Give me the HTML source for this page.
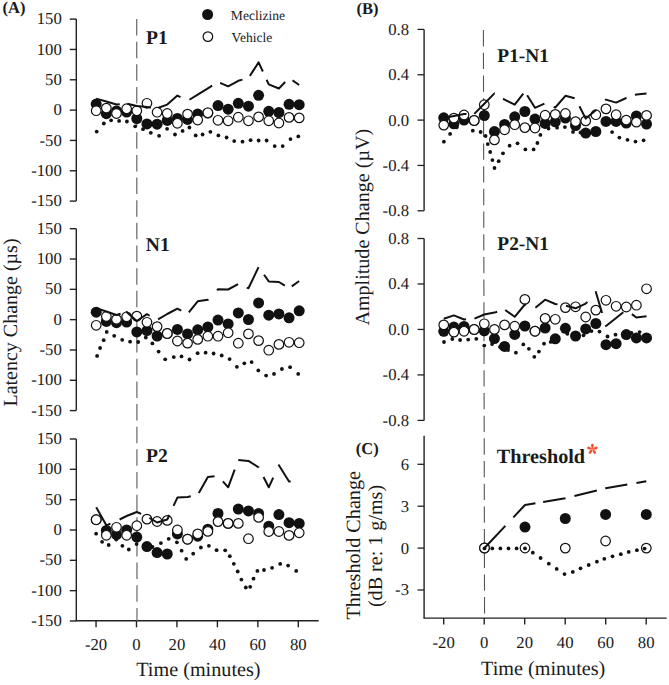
<!DOCTYPE html>
<html><head><meta charset="utf-8"><style>
html,body{margin:0;padding:0;background:#fff;width:669px;height:685px;overflow:hidden}
svg{display:block;font-family:"Liberation Serif", serif;text-rendering:geometricPrecision}
</style></head><body>
<svg width="669" height="685" viewBox="0 0 669 685">
<rect width="669" height="685" fill="#fff"/>
<line x1="76.30" y1="19.10" x2="76.30" y2="201.10" stroke="#222" stroke-width="1.4" />
<line x1="69.80" y1="19.10" x2="76.30" y2="19.10" stroke="#222" stroke-width="1.4" />
<text x="61.80" y="24.20" font-size="16.7" text-anchor="end" font-weight="normal" fill="#1a1a1a" >150</text>
<line x1="69.80" y1="49.43" x2="76.30" y2="49.43" stroke="#222" stroke-width="1.4" />
<text x="61.80" y="54.53" font-size="16.7" text-anchor="end" font-weight="normal" fill="#1a1a1a" >100</text>
<line x1="69.80" y1="79.77" x2="76.30" y2="79.77" stroke="#222" stroke-width="1.4" />
<text x="61.80" y="84.87" font-size="16.7" text-anchor="end" font-weight="normal" fill="#1a1a1a" >50</text>
<line x1="69.80" y1="110.10" x2="76.30" y2="110.10" stroke="#222" stroke-width="1.4" />
<text x="61.80" y="115.20" font-size="16.7" text-anchor="end" font-weight="normal" fill="#1a1a1a" >0</text>
<line x1="69.80" y1="140.43" x2="76.30" y2="140.43" stroke="#222" stroke-width="1.4" />
<text x="61.80" y="145.53" font-size="16.7" text-anchor="end" font-weight="normal" fill="#1a1a1a" >-50</text>
<line x1="69.80" y1="170.77" x2="76.30" y2="170.77" stroke="#222" stroke-width="1.4" />
<text x="61.80" y="175.87" font-size="16.7" text-anchor="end" font-weight="normal" fill="#1a1a1a" >-100</text>
<line x1="69.80" y1="201.10" x2="76.30" y2="201.10" stroke="#222" stroke-width="1.4" />
<text x="61.80" y="206.20" font-size="16.7" text-anchor="end" font-weight="normal" fill="#1a1a1a" >-150</text>
<line x1="76.30" y1="228.70" x2="76.30" y2="410.60" stroke="#222" stroke-width="1.4" />
<line x1="69.80" y1="228.70" x2="76.30" y2="228.70" stroke="#222" stroke-width="1.4" />
<text x="61.80" y="233.80" font-size="16.7" text-anchor="end" font-weight="normal" fill="#1a1a1a" >150</text>
<line x1="69.80" y1="259.02" x2="76.30" y2="259.02" stroke="#222" stroke-width="1.4" />
<text x="61.80" y="264.12" font-size="16.7" text-anchor="end" font-weight="normal" fill="#1a1a1a" >100</text>
<line x1="69.80" y1="289.33" x2="76.30" y2="289.33" stroke="#222" stroke-width="1.4" />
<text x="61.80" y="294.43" font-size="16.7" text-anchor="end" font-weight="normal" fill="#1a1a1a" >50</text>
<line x1="69.80" y1="319.65" x2="76.30" y2="319.65" stroke="#222" stroke-width="1.4" />
<text x="61.80" y="324.75" font-size="16.7" text-anchor="end" font-weight="normal" fill="#1a1a1a" >0</text>
<line x1="69.80" y1="349.97" x2="76.30" y2="349.97" stroke="#222" stroke-width="1.4" />
<text x="61.80" y="355.07" font-size="16.7" text-anchor="end" font-weight="normal" fill="#1a1a1a" >-50</text>
<line x1="69.80" y1="380.28" x2="76.30" y2="380.28" stroke="#222" stroke-width="1.4" />
<text x="61.80" y="385.38" font-size="16.7" text-anchor="end" font-weight="normal" fill="#1a1a1a" >-100</text>
<line x1="69.80" y1="410.60" x2="76.30" y2="410.60" stroke="#222" stroke-width="1.4" />
<text x="61.80" y="415.70" font-size="16.7" text-anchor="end" font-weight="normal" fill="#1a1a1a" >-150</text>
<line x1="76.30" y1="439.00" x2="76.30" y2="621.00" stroke="#222" stroke-width="1.4" />
<line x1="69.80" y1="439.00" x2="76.30" y2="439.00" stroke="#222" stroke-width="1.4" />
<text x="61.80" y="444.10" font-size="16.7" text-anchor="end" font-weight="normal" fill="#1a1a1a" >150</text>
<line x1="69.80" y1="469.33" x2="76.30" y2="469.33" stroke="#222" stroke-width="1.4" />
<text x="61.80" y="474.43" font-size="16.7" text-anchor="end" font-weight="normal" fill="#1a1a1a" >100</text>
<line x1="69.80" y1="499.67" x2="76.30" y2="499.67" stroke="#222" stroke-width="1.4" />
<text x="61.80" y="504.77" font-size="16.7" text-anchor="end" font-weight="normal" fill="#1a1a1a" >50</text>
<line x1="69.80" y1="530.00" x2="76.30" y2="530.00" stroke="#222" stroke-width="1.4" />
<text x="61.80" y="535.10" font-size="16.7" text-anchor="end" font-weight="normal" fill="#1a1a1a" >0</text>
<line x1="69.80" y1="560.33" x2="76.30" y2="560.33" stroke="#222" stroke-width="1.4" />
<text x="61.80" y="565.43" font-size="16.7" text-anchor="end" font-weight="normal" fill="#1a1a1a" >-50</text>
<line x1="69.80" y1="590.67" x2="76.30" y2="590.67" stroke="#222" stroke-width="1.4" />
<text x="61.80" y="595.77" font-size="16.7" text-anchor="end" font-weight="normal" fill="#1a1a1a" >-100</text>
<line x1="69.80" y1="621.00" x2="76.30" y2="621.00" stroke="#222" stroke-width="1.4" />
<text x="61.80" y="626.10" font-size="16.7" text-anchor="end" font-weight="normal" fill="#1a1a1a" >-150</text>
<line x1="75.60" y1="620.80" x2="318.70" y2="620.80" stroke="#222" stroke-width="1.4" />
<line x1="96.05" y1="620.80" x2="96.05" y2="627.30" stroke="#222" stroke-width="1.4" />
<text x="96.05" y="649.60" font-size="16.7" text-anchor="middle" font-weight="normal" fill="#1a1a1a" >-20</text>
<line x1="136.50" y1="620.80" x2="136.50" y2="627.30" stroke="#222" stroke-width="1.4" />
<text x="136.50" y="649.60" font-size="16.7" text-anchor="middle" font-weight="normal" fill="#1a1a1a" >0</text>
<line x1="176.95" y1="620.80" x2="176.95" y2="627.30" stroke="#222" stroke-width="1.4" />
<text x="176.95" y="649.60" font-size="16.7" text-anchor="middle" font-weight="normal" fill="#1a1a1a" >20</text>
<line x1="217.40" y1="620.80" x2="217.40" y2="627.30" stroke="#222" stroke-width="1.4" />
<text x="217.40" y="649.60" font-size="16.7" text-anchor="middle" font-weight="normal" fill="#1a1a1a" >40</text>
<line x1="257.85" y1="620.80" x2="257.85" y2="627.30" stroke="#222" stroke-width="1.4" />
<text x="257.85" y="649.60" font-size="16.7" text-anchor="middle" font-weight="normal" fill="#1a1a1a" >60</text>
<line x1="298.30" y1="620.80" x2="298.30" y2="627.30" stroke="#222" stroke-width="1.4" />
<text x="298.30" y="649.60" font-size="16.7" text-anchor="middle" font-weight="normal" fill="#1a1a1a" >80</text>
<line x1="136.70" y1="19.00" x2="137.00" y2="620.80" stroke="#727272" stroke-width="1.3" stroke-dasharray="16.5 6.15"/>
<line x1="424.10" y1="29.40" x2="424.10" y2="210.80" stroke="#222" stroke-width="1.4" />
<line x1="417.50" y1="29.40" x2="424.10" y2="29.40" stroke="#222" stroke-width="1.3" />
<text x="409.00" y="34.80" font-size="16.7" text-anchor="end" font-weight="normal" fill="#1a1a1a" >0.8</text>
<line x1="417.50" y1="74.75" x2="424.10" y2="74.75" stroke="#222" stroke-width="1.3" />
<text x="409.00" y="80.15" font-size="16.7" text-anchor="end" font-weight="normal" fill="#1a1a1a" >0.4</text>
<line x1="417.50" y1="120.10" x2="424.10" y2="120.10" stroke="#222" stroke-width="1.3" />
<text x="409.00" y="125.50" font-size="16.7" text-anchor="end" font-weight="normal" fill="#1a1a1a" >0.0</text>
<line x1="417.50" y1="165.45" x2="424.10" y2="165.45" stroke="#222" stroke-width="1.3" />
<text x="409.00" y="170.85" font-size="16.7" text-anchor="end" font-weight="normal" fill="#1a1a1a" >-0.4</text>
<line x1="417.50" y1="210.80" x2="424.10" y2="210.80" stroke="#222" stroke-width="1.3" />
<text x="409.00" y="216.20" font-size="16.7" text-anchor="end" font-weight="normal" fill="#1a1a1a" >-0.8</text>
<line x1="424.10" y1="238.50" x2="424.10" y2="420.40" stroke="#222" stroke-width="1.4" />
<line x1="417.50" y1="238.50" x2="424.10" y2="238.50" stroke="#222" stroke-width="1.3" />
<text x="409.00" y="243.90" font-size="16.7" text-anchor="end" font-weight="normal" fill="#1a1a1a" >0.8</text>
<line x1="417.50" y1="283.98" x2="424.10" y2="283.98" stroke="#222" stroke-width="1.3" />
<text x="409.00" y="289.38" font-size="16.7" text-anchor="end" font-weight="normal" fill="#1a1a1a" >0.4</text>
<line x1="417.50" y1="329.45" x2="424.10" y2="329.45" stroke="#222" stroke-width="1.3" />
<text x="409.00" y="334.85" font-size="16.7" text-anchor="end" font-weight="normal" fill="#1a1a1a" >0.0</text>
<line x1="417.50" y1="374.92" x2="424.10" y2="374.92" stroke="#222" stroke-width="1.3" />
<text x="409.00" y="380.32" font-size="16.7" text-anchor="end" font-weight="normal" fill="#1a1a1a" >-0.4</text>
<line x1="417.50" y1="420.40" x2="424.10" y2="420.40" stroke="#222" stroke-width="1.3" />
<text x="409.00" y="425.80" font-size="16.7" text-anchor="end" font-weight="normal" fill="#1a1a1a" >-0.8</text>
<line x1="424.10" y1="435.80" x2="424.10" y2="618.10" stroke="#222" stroke-width="1.4" />
<line x1="417.50" y1="464.30" x2="424.10" y2="464.30" stroke="#222" stroke-width="1.3" />
<text x="409.00" y="469.70" font-size="16.7" text-anchor="end" font-weight="normal" fill="#1a1a1a" >6</text>
<line x1="417.50" y1="506.20" x2="424.10" y2="506.20" stroke="#222" stroke-width="1.3" />
<text x="409.00" y="511.60" font-size="16.7" text-anchor="end" font-weight="normal" fill="#1a1a1a" >3</text>
<line x1="417.50" y1="548.10" x2="424.10" y2="548.10" stroke="#222" stroke-width="1.3" />
<text x="409.00" y="553.50" font-size="16.7" text-anchor="end" font-weight="normal" fill="#1a1a1a" >0</text>
<line x1="417.50" y1="590.00" x2="424.10" y2="590.00" stroke="#222" stroke-width="1.3" />
<text x="409.00" y="595.40" font-size="16.7" text-anchor="end" font-weight="normal" fill="#1a1a1a" >-3</text>
<line x1="423.40" y1="618.10" x2="666.70" y2="618.10" stroke="#222" stroke-width="1.4" />
<line x1="443.70" y1="618.10" x2="443.70" y2="624.60" stroke="#222" stroke-width="1.4" />
<text x="443.70" y="647.60" font-size="16.7" text-anchor="middle" font-weight="normal" fill="#1a1a1a" >-20</text>
<line x1="484.20" y1="618.10" x2="484.20" y2="624.60" stroke="#222" stroke-width="1.4" />
<text x="484.20" y="647.60" font-size="16.7" text-anchor="middle" font-weight="normal" fill="#1a1a1a" >0</text>
<line x1="524.70" y1="618.10" x2="524.70" y2="624.60" stroke="#222" stroke-width="1.4" />
<text x="524.70" y="647.60" font-size="16.7" text-anchor="middle" font-weight="normal" fill="#1a1a1a" >20</text>
<line x1="565.20" y1="618.10" x2="565.20" y2="624.60" stroke="#222" stroke-width="1.4" />
<text x="565.20" y="647.60" font-size="16.7" text-anchor="middle" font-weight="normal" fill="#1a1a1a" >40</text>
<line x1="605.70" y1="618.10" x2="605.70" y2="624.60" stroke="#222" stroke-width="1.4" />
<text x="605.70" y="647.60" font-size="16.7" text-anchor="middle" font-weight="normal" fill="#1a1a1a" >60</text>
<line x1="646.20" y1="618.10" x2="646.20" y2="624.60" stroke="#222" stroke-width="1.4" />
<text x="646.20" y="647.60" font-size="16.7" text-anchor="middle" font-weight="normal" fill="#1a1a1a" >80</text>
<line x1="483.40" y1="30.10" x2="484.55" y2="618.10" stroke="#555" stroke-width="1.1" stroke-dasharray="16.3 6.38"/>
<circle cx="96.20" cy="104.10" r="5.5" fill="#111"/>
<circle cx="106.35" cy="113.70" r="5.5" fill="#111"/>
<circle cx="116.50" cy="111.00" r="5.5" fill="#111"/>
<circle cx="126.65" cy="112.00" r="5.5" fill="#111"/>
<circle cx="136.80" cy="118.50" r="5.5" fill="#111"/>
<circle cx="146.95" cy="123.90" r="5.5" fill="#111"/>
<circle cx="157.10" cy="124.20" r="5.5" fill="#111"/>
<circle cx="167.25" cy="120.40" r="5.5" fill="#111"/>
<circle cx="177.40" cy="118.50" r="5.5" fill="#111"/>
<circle cx="187.55" cy="119.40" r="5.5" fill="#111"/>
<circle cx="197.70" cy="114.10" r="5.5" fill="#111"/>
<circle cx="207.85" cy="113.00" r="5.5" fill="#111"/>
<circle cx="218.00" cy="105.60" r="5.5" fill="#111"/>
<circle cx="228.15" cy="109.20" r="5.5" fill="#111"/>
<circle cx="238.30" cy="103.30" r="5.5" fill="#111"/>
<circle cx="248.45" cy="106.20" r="5.5" fill="#111"/>
<circle cx="258.60" cy="95.30" r="5.5" fill="#111"/>
<circle cx="268.75" cy="111.30" r="5.5" fill="#111"/>
<circle cx="278.90" cy="112.50" r="5.5" fill="#111"/>
<circle cx="289.05" cy="104.30" r="5.5" fill="#111"/>
<circle cx="299.20" cy="104.70" r="5.5" fill="#111"/>
<circle cx="96.20" cy="110.70" r="4.8" fill="#fff" stroke="#111" stroke-width="1.2"/>
<circle cx="106.35" cy="108.10" r="4.8" fill="#fff" stroke="#111" stroke-width="1.2"/>
<circle cx="116.50" cy="113.50" r="4.8" fill="#fff" stroke="#111" stroke-width="1.2"/>
<circle cx="126.65" cy="108.70" r="4.8" fill="#fff" stroke="#111" stroke-width="1.2"/>
<circle cx="136.80" cy="110.70" r="4.8" fill="#fff" stroke="#111" stroke-width="1.2"/>
<circle cx="146.95" cy="103.30" r="4.8" fill="#fff" stroke="#111" stroke-width="1.2"/>
<circle cx="157.10" cy="112.20" r="4.8" fill="#fff" stroke="#111" stroke-width="1.2"/>
<circle cx="167.25" cy="113.50" r="4.8" fill="#fff" stroke="#111" stroke-width="1.2"/>
<circle cx="177.40" cy="123.30" r="4.8" fill="#fff" stroke="#111" stroke-width="1.2"/>
<circle cx="187.55" cy="114.10" r="4.8" fill="#fff" stroke="#111" stroke-width="1.2"/>
<circle cx="197.70" cy="120.00" r="4.8" fill="#fff" stroke="#111" stroke-width="1.2"/>
<circle cx="207.85" cy="112.80" r="4.8" fill="#fff" stroke="#111" stroke-width="1.2"/>
<circle cx="218.00" cy="120.30" r="4.8" fill="#fff" stroke="#111" stroke-width="1.2"/>
<circle cx="228.15" cy="120.80" r="4.8" fill="#fff" stroke="#111" stroke-width="1.2"/>
<circle cx="238.30" cy="117.20" r="4.8" fill="#fff" stroke="#111" stroke-width="1.2"/>
<circle cx="248.45" cy="120.80" r="4.8" fill="#fff" stroke="#111" stroke-width="1.2"/>
<circle cx="258.60" cy="116.90" r="4.8" fill="#fff" stroke="#111" stroke-width="1.2"/>
<circle cx="268.75" cy="120.80" r="4.8" fill="#fff" stroke="#111" stroke-width="1.2"/>
<circle cx="278.90" cy="123.00" r="4.8" fill="#fff" stroke="#111" stroke-width="1.2"/>
<circle cx="289.05" cy="117.40" r="4.8" fill="#fff" stroke="#111" stroke-width="1.2"/>
<circle cx="299.20" cy="117.90" r="4.8" fill="#fff" stroke="#111" stroke-width="1.2"/>
<polyline points="96.20,98.60 106.35,101.50 116.50,104.50 126.65,103.50 136.80,106.00 146.95,107.00 157.10,108.20 167.25,104.60 177.40,95.60 187.55,100.90 197.70,94.60 207.85,88.30 218.00,82.00 228.15,86.30 238.30,80.80 248.45,78.00 258.60,62.40 268.75,84.30 278.90,88.50 289.05,78.00 299.20,85.00" fill="none" stroke="#111" stroke-width="2" stroke-dasharray="24.41 7.66 23.99 7.54 26.43 10.17 26.78 9.21 24.50 8.82 26.11 9.00 25.04 9.82 24.50 8.50" stroke-linejoin="round"/>
<circle cx="96.70" cy="131.60" r="1.9" fill="#111"/>
<circle cx="103.80" cy="123.50" r="1.9" fill="#111"/>
<circle cx="111.10" cy="120.30" r="1.9" fill="#111"/>
<circle cx="119.10" cy="120.90" r="1.9" fill="#111"/>
<circle cx="126.90" cy="121.50" r="1.9" fill="#111"/>
<circle cx="135.20" cy="126.30" r="1.9" fill="#111"/>
<circle cx="143.00" cy="129.20" r="1.9" fill="#111"/>
<circle cx="150.80" cy="132.80" r="1.9" fill="#111"/>
<circle cx="159.10" cy="135.80" r="1.9" fill="#111"/>
<circle cx="167.10" cy="128.80" r="1.9" fill="#111"/>
<circle cx="175.00" cy="134.50" r="1.9" fill="#111"/>
<circle cx="182.60" cy="130.90" r="1.9" fill="#111"/>
<circle cx="189.40" cy="127.50" r="1.9" fill="#111"/>
<circle cx="195.70" cy="135.40" r="1.9" fill="#111"/>
<circle cx="202.60" cy="134.50" r="1.9" fill="#111"/>
<circle cx="210.40" cy="131.80" r="1.9" fill="#111"/>
<circle cx="218.40" cy="135.40" r="1.9" fill="#111"/>
<circle cx="226.60" cy="137.50" r="1.9" fill="#111"/>
<circle cx="234.20" cy="141.10" r="1.9" fill="#111"/>
<circle cx="242.50" cy="141.70" r="1.9" fill="#111"/>
<circle cx="250.60" cy="140.20" r="1.9" fill="#111"/>
<circle cx="258.60" cy="140.50" r="1.9" fill="#111"/>
<circle cx="266.60" cy="140.50" r="1.9" fill="#111"/>
<circle cx="274.70" cy="146.10" r="1.9" fill="#111"/>
<circle cx="282.70" cy="146.10" r="1.9" fill="#111"/>
<circle cx="290.50" cy="139.10" r="1.9" fill="#111"/>
<circle cx="298.30" cy="136.40" r="1.9" fill="#111"/>
<circle cx="96.20" cy="312.20" r="5.5" fill="#111"/>
<circle cx="106.35" cy="321.40" r="5.5" fill="#111"/>
<circle cx="116.50" cy="322.70" r="5.5" fill="#111"/>
<circle cx="126.65" cy="322.00" r="5.5" fill="#111"/>
<circle cx="136.80" cy="331.90" r="5.5" fill="#111"/>
<circle cx="146.95" cy="330.60" r="5.5" fill="#111"/>
<circle cx="157.10" cy="336.00" r="5.5" fill="#111"/>
<circle cx="167.25" cy="333.50" r="5.5" fill="#111"/>
<circle cx="177.40" cy="329.40" r="5.5" fill="#111"/>
<circle cx="187.55" cy="333.90" r="5.5" fill="#111"/>
<circle cx="197.70" cy="329.80" r="5.5" fill="#111"/>
<circle cx="207.85" cy="327.00" r="5.5" fill="#111"/>
<circle cx="218.00" cy="320.10" r="5.5" fill="#111"/>
<circle cx="228.15" cy="323.90" r="5.5" fill="#111"/>
<circle cx="238.30" cy="312.90" r="5.5" fill="#111"/>
<circle cx="248.45" cy="319.50" r="5.5" fill="#111"/>
<circle cx="258.60" cy="302.90" r="5.5" fill="#111"/>
<circle cx="268.75" cy="315.20" r="5.5" fill="#111"/>
<circle cx="278.90" cy="313.90" r="5.5" fill="#111"/>
<circle cx="289.05" cy="317.80" r="5.5" fill="#111"/>
<circle cx="299.20" cy="310.80" r="5.5" fill="#111"/>
<circle cx="96.20" cy="325.30" r="4.8" fill="#fff" stroke="#111" stroke-width="1.2"/>
<circle cx="106.35" cy="316.50" r="4.8" fill="#fff" stroke="#111" stroke-width="1.2"/>
<circle cx="116.50" cy="319.40" r="4.8" fill="#fff" stroke="#111" stroke-width="1.2"/>
<circle cx="126.65" cy="316.80" r="4.8" fill="#fff" stroke="#111" stroke-width="1.2"/>
<circle cx="136.80" cy="316.10" r="4.8" fill="#fff" stroke="#111" stroke-width="1.2"/>
<circle cx="146.95" cy="322.30" r="4.8" fill="#fff" stroke="#111" stroke-width="1.2"/>
<circle cx="157.10" cy="326.60" r="4.8" fill="#fff" stroke="#111" stroke-width="1.2"/>
<circle cx="167.25" cy="333.50" r="4.8" fill="#fff" stroke="#111" stroke-width="1.2"/>
<circle cx="177.40" cy="341.00" r="4.8" fill="#fff" stroke="#111" stroke-width="1.2"/>
<circle cx="187.55" cy="343.10" r="4.8" fill="#fff" stroke="#111" stroke-width="1.2"/>
<circle cx="197.70" cy="339.40" r="4.8" fill="#fff" stroke="#111" stroke-width="1.2"/>
<circle cx="207.85" cy="336.20" r="4.8" fill="#fff" stroke="#111" stroke-width="1.2"/>
<circle cx="218.00" cy="336.20" r="4.8" fill="#fff" stroke="#111" stroke-width="1.2"/>
<circle cx="228.15" cy="332.70" r="4.8" fill="#fff" stroke="#111" stroke-width="1.2"/>
<circle cx="238.30" cy="343.20" r="4.8" fill="#fff" stroke="#111" stroke-width="1.2"/>
<circle cx="248.45" cy="333.90" r="4.8" fill="#fff" stroke="#111" stroke-width="1.2"/>
<circle cx="258.60" cy="340.60" r="4.8" fill="#fff" stroke="#111" stroke-width="1.2"/>
<circle cx="268.75" cy="350.20" r="4.8" fill="#fff" stroke="#111" stroke-width="1.2"/>
<circle cx="278.90" cy="344.40" r="4.8" fill="#fff" stroke="#111" stroke-width="1.2"/>
<circle cx="289.05" cy="342.30" r="4.8" fill="#fff" stroke="#111" stroke-width="1.2"/>
<circle cx="299.20" cy="342.70" r="4.8" fill="#fff" stroke="#111" stroke-width="1.2"/>
<polyline points="96.20,308.20 106.35,311.50 116.50,315.00 126.65,312.00 136.80,321.00 146.95,314.20 157.10,320.00 167.25,314.00 177.40,308.70 187.55,314.00 197.70,301.30 207.85,299.70 218.00,289.30 228.15,289.50 238.30,284.00 248.45,288.30 258.60,267.00 268.75,281.40 278.90,282.00 289.05,288.30 299.20,281.00" fill="none" stroke="#111" stroke-width="2" stroke-dasharray="25.67 5.61 29.62 9.67 26.47 9.12 25.20 12.46 22.84 9.44 25.32 9.64 25.30 8.28 24.50 8.50" stroke-linejoin="round"/>
<circle cx="97.10" cy="355.90" r="1.9" fill="#111"/>
<circle cx="100.10" cy="348.00" r="1.9" fill="#111"/>
<circle cx="103.70" cy="340.20" r="1.9" fill="#111"/>
<circle cx="106.70" cy="331.90" r="1.9" fill="#111"/>
<circle cx="114.20" cy="335.80" r="1.9" fill="#111"/>
<circle cx="122.20" cy="339.80" r="1.9" fill="#111"/>
<circle cx="130.10" cy="341.70" r="1.9" fill="#111"/>
<circle cx="138.20" cy="342.00" r="1.9" fill="#111"/>
<circle cx="145.80" cy="337.50" r="1.9" fill="#111"/>
<circle cx="152.40" cy="343.40" r="1.9" fill="#111"/>
<circle cx="158.60" cy="351.60" r="1.9" fill="#111"/>
<circle cx="165.20" cy="359.30" r="1.9" fill="#111"/>
<circle cx="173.80" cy="357.10" r="1.9" fill="#111"/>
<circle cx="181.50" cy="356.40" r="1.9" fill="#111"/>
<circle cx="189.50" cy="359.50" r="1.9" fill="#111"/>
<circle cx="197.60" cy="353.20" r="1.9" fill="#111"/>
<circle cx="205.60" cy="352.70" r="1.9" fill="#111"/>
<circle cx="213.60" cy="353.50" r="1.9" fill="#111"/>
<circle cx="221.70" cy="355.50" r="1.9" fill="#111"/>
<circle cx="229.60" cy="359.10" r="1.9" fill="#111"/>
<circle cx="236.90" cy="366.80" r="1.9" fill="#111"/>
<circle cx="244.30" cy="363.30" r="1.9" fill="#111"/>
<circle cx="251.60" cy="362.10" r="1.9" fill="#111"/>
<circle cx="258.30" cy="370.40" r="1.9" fill="#111"/>
<circle cx="266.10" cy="375.60" r="1.9" fill="#111"/>
<circle cx="274.00" cy="373.90" r="1.9" fill="#111"/>
<circle cx="281.90" cy="369.00" r="1.9" fill="#111"/>
<circle cx="290.10" cy="367.20" r="1.9" fill="#111"/>
<circle cx="298.20" cy="373.90" r="1.9" fill="#111"/>
<circle cx="96.20" cy="519.70" r="5.5" fill="#111"/>
<circle cx="106.35" cy="530.50" r="5.5" fill="#111"/>
<circle cx="116.50" cy="534.50" r="5.5" fill="#111"/>
<circle cx="126.65" cy="529.90" r="5.5" fill="#111"/>
<circle cx="136.80" cy="537.10" r="5.5" fill="#111"/>
<circle cx="146.95" cy="546.60" r="5.5" fill="#111"/>
<circle cx="157.10" cy="552.60" r="5.5" fill="#111"/>
<circle cx="167.25" cy="554.00" r="5.5" fill="#111"/>
<circle cx="177.40" cy="533.90" r="5.5" fill="#111"/>
<circle cx="187.55" cy="539.20" r="5.5" fill="#111"/>
<circle cx="197.70" cy="536.20" r="5.5" fill="#111"/>
<circle cx="207.85" cy="529.20" r="5.5" fill="#111"/>
<circle cx="218.00" cy="513.40" r="5.5" fill="#111"/>
<circle cx="228.15" cy="523.40" r="5.5" fill="#111"/>
<circle cx="238.30" cy="509.10" r="5.5" fill="#111"/>
<circle cx="248.45" cy="510.90" r="5.5" fill="#111"/>
<circle cx="258.60" cy="513.50" r="5.5" fill="#111"/>
<circle cx="268.75" cy="526.20" r="5.5" fill="#111"/>
<circle cx="278.90" cy="514.60" r="5.5" fill="#111"/>
<circle cx="289.05" cy="522.70" r="5.5" fill="#111"/>
<circle cx="299.20" cy="523.40" r="5.5" fill="#111"/>
<circle cx="96.20" cy="519.70" r="4.8" fill="#fff" stroke="#111" stroke-width="1.2"/>
<circle cx="106.35" cy="535.30" r="4.8" fill="#fff" stroke="#111" stroke-width="1.2"/>
<circle cx="116.50" cy="527.30" r="4.8" fill="#fff" stroke="#111" stroke-width="1.2"/>
<circle cx="126.65" cy="535.30" r="4.8" fill="#fff" stroke="#111" stroke-width="1.2"/>
<circle cx="136.80" cy="525.70" r="4.8" fill="#fff" stroke="#111" stroke-width="1.2"/>
<circle cx="146.95" cy="519.10" r="4.8" fill="#fff" stroke="#111" stroke-width="1.2"/>
<circle cx="157.10" cy="521.50" r="4.8" fill="#fff" stroke="#111" stroke-width="1.2"/>
<circle cx="167.25" cy="520.40" r="4.8" fill="#fff" stroke="#111" stroke-width="1.2"/>
<circle cx="177.40" cy="530.00" r="4.8" fill="#fff" stroke="#111" stroke-width="1.2"/>
<circle cx="187.55" cy="539.20" r="4.8" fill="#fff" stroke="#111" stroke-width="1.2"/>
<circle cx="197.70" cy="533.90" r="4.8" fill="#fff" stroke="#111" stroke-width="1.2"/>
<circle cx="207.85" cy="531.40" r="4.8" fill="#fff" stroke="#111" stroke-width="1.2"/>
<circle cx="218.00" cy="521.60" r="4.8" fill="#fff" stroke="#111" stroke-width="1.2"/>
<circle cx="228.15" cy="523.40" r="4.8" fill="#fff" stroke="#111" stroke-width="1.2"/>
<circle cx="238.30" cy="523.40" r="4.8" fill="#fff" stroke="#111" stroke-width="1.2"/>
<circle cx="248.45" cy="538.70" r="4.8" fill="#fff" stroke="#111" stroke-width="1.2"/>
<circle cx="258.60" cy="517.40" r="4.8" fill="#fff" stroke="#111" stroke-width="1.2"/>
<circle cx="268.75" cy="531.50" r="4.8" fill="#fff" stroke="#111" stroke-width="1.2"/>
<circle cx="278.90" cy="531.50" r="4.8" fill="#fff" stroke="#111" stroke-width="1.2"/>
<circle cx="289.05" cy="535.40" r="4.8" fill="#fff" stroke="#111" stroke-width="1.2"/>
<circle cx="299.20" cy="532.80" r="4.8" fill="#fff" stroke="#111" stroke-width="1.2"/>
<polyline points="96.20,507.20 106.35,525.30 116.50,521.00 126.65,516.00 136.80,512.00 146.95,516.50 157.10,522.50 167.25,519.50 177.40,497.60 187.55,496.90 197.70,494.90 207.85,477.00 218.00,476.00 228.15,487.30 238.30,459.90 248.45,460.90 258.60,467.30 268.75,487.30 278.90,465.20 289.05,481.50 299.20,482.00" fill="none" stroke="#111" stroke-width="2" stroke-dasharray="25.22 9.99 23.60 9.19 24.47 9.94 22.69 9.32 25.00 10.82 26.73 10.35 22.51 10.55 22.21 13.00 21.53 8.50 24.50 8.50" stroke-linejoin="round"/>
<circle cx="96.10" cy="533.70" r="1.9" fill="#111"/>
<circle cx="102.10" cy="541.80" r="1.9" fill="#111"/>
<circle cx="108.70" cy="545.00" r="1.9" fill="#111"/>
<circle cx="116.20" cy="539.50" r="1.9" fill="#111"/>
<circle cx="122.40" cy="545.80" r="1.9" fill="#111"/>
<circle cx="128.80" cy="549.50" r="1.9" fill="#111"/>
<circle cx="136.60" cy="544.10" r="1.9" fill="#111"/>
<circle cx="144.50" cy="547.00" r="1.9" fill="#111"/>
<circle cx="152.50" cy="547.00" r="1.9" fill="#111"/>
<circle cx="160.90" cy="543.10" r="1.9" fill="#111"/>
<circle cx="168.70" cy="538.80" r="1.9" fill="#111"/>
<circle cx="176.90" cy="542.30" r="1.9" fill="#111"/>
<circle cx="181.60" cy="550.70" r="1.9" fill="#111"/>
<circle cx="186.20" cy="558.90" r="1.9" fill="#111"/>
<circle cx="193.20" cy="553.70" r="1.9" fill="#111"/>
<circle cx="200.90" cy="547.50" r="1.9" fill="#111"/>
<circle cx="208.90" cy="545.80" r="1.9" fill="#111"/>
<circle cx="216.60" cy="550.20" r="1.9" fill="#111"/>
<circle cx="225.20" cy="550.30" r="1.9" fill="#111"/>
<circle cx="229.80" cy="556.20" r="1.9" fill="#111"/>
<circle cx="233.80" cy="563.80" r="1.9" fill="#111"/>
<circle cx="237.70" cy="571.50" r="1.9" fill="#111"/>
<circle cx="241.40" cy="579.60" r="1.9" fill="#111"/>
<circle cx="245.80" cy="587.50" r="1.9" fill="#111"/>
<circle cx="250.20" cy="586.80" r="1.9" fill="#111"/>
<circle cx="253.50" cy="578.70" r="1.9" fill="#111"/>
<circle cx="257.40" cy="570.90" r="1.9" fill="#111"/>
<circle cx="264.00" cy="570.00" r="1.9" fill="#111"/>
<circle cx="272.10" cy="567.80" r="1.9" fill="#111"/>
<circle cx="280.20" cy="563.90" r="1.9" fill="#111"/>
<circle cx="288.10" cy="565.60" r="1.9" fill="#111"/>
<circle cx="296.20" cy="570.90" r="1.9" fill="#111"/>
<circle cx="443.74" cy="117.80" r="5.5" fill="#111"/>
<circle cx="453.88" cy="123.80" r="5.5" fill="#111"/>
<circle cx="464.02" cy="120.00" r="5.5" fill="#111"/>
<circle cx="474.16" cy="120.50" r="5.5" fill="#111"/>
<circle cx="484.30" cy="115.50" r="5.5" fill="#111"/>
<circle cx="494.44" cy="131.60" r="5.5" fill="#111"/>
<circle cx="504.58" cy="124.50" r="5.5" fill="#111"/>
<circle cx="514.72" cy="116.80" r="5.5" fill="#111"/>
<circle cx="524.86" cy="111.50" r="5.5" fill="#111"/>
<circle cx="535.00" cy="119.10" r="5.5" fill="#111"/>
<circle cx="545.14" cy="123.40" r="5.5" fill="#111"/>
<circle cx="555.28" cy="121.80" r="5.5" fill="#111"/>
<circle cx="565.42" cy="118.10" r="5.5" fill="#111"/>
<circle cx="575.56" cy="125.50" r="5.5" fill="#111"/>
<circle cx="585.70" cy="133.10" r="5.5" fill="#111"/>
<circle cx="595.84" cy="131.50" r="5.5" fill="#111"/>
<circle cx="605.98" cy="121.40" r="5.5" fill="#111"/>
<circle cx="616.12" cy="121.40" r="5.5" fill="#111"/>
<circle cx="626.26" cy="123.00" r="5.5" fill="#111"/>
<circle cx="636.40" cy="116.00" r="5.5" fill="#111"/>
<circle cx="646.54" cy="124.10" r="5.5" fill="#111"/>
<circle cx="443.74" cy="125.10" r="4.8" fill="#fff" stroke="#111" stroke-width="1.2"/>
<circle cx="453.88" cy="118.10" r="4.8" fill="#fff" stroke="#111" stroke-width="1.2"/>
<circle cx="464.02" cy="115.00" r="4.8" fill="#fff" stroke="#111" stroke-width="1.2"/>
<circle cx="474.16" cy="120.50" r="4.8" fill="#fff" stroke="#111" stroke-width="1.2"/>
<circle cx="484.30" cy="104.70" r="4.8" fill="#fff" stroke="#111" stroke-width="1.2"/>
<circle cx="494.44" cy="139.90" r="4.8" fill="#fff" stroke="#111" stroke-width="1.2"/>
<circle cx="504.58" cy="129.80" r="4.8" fill="#fff" stroke="#111" stroke-width="1.2"/>
<circle cx="514.72" cy="124.70" r="4.8" fill="#fff" stroke="#111" stroke-width="1.2"/>
<circle cx="524.86" cy="127.60" r="4.8" fill="#fff" stroke="#111" stroke-width="1.2"/>
<circle cx="535.00" cy="128.00" r="4.8" fill="#fff" stroke="#111" stroke-width="1.2"/>
<circle cx="545.14" cy="115.20" r="4.8" fill="#fff" stroke="#111" stroke-width="1.2"/>
<circle cx="555.28" cy="114.40" r="4.8" fill="#fff" stroke="#111" stroke-width="1.2"/>
<circle cx="565.42" cy="113.50" r="4.8" fill="#fff" stroke="#111" stroke-width="1.2"/>
<circle cx="575.56" cy="121.60" r="4.8" fill="#fff" stroke="#111" stroke-width="1.2"/>
<circle cx="585.70" cy="120.90" r="4.8" fill="#fff" stroke="#111" stroke-width="1.2"/>
<circle cx="595.84" cy="114.70" r="4.8" fill="#fff" stroke="#111" stroke-width="1.2"/>
<circle cx="605.98" cy="108.90" r="4.8" fill="#fff" stroke="#111" stroke-width="1.2"/>
<circle cx="616.12" cy="114.70" r="4.8" fill="#fff" stroke="#111" stroke-width="1.2"/>
<circle cx="626.26" cy="120.10" r="4.8" fill="#fff" stroke="#111" stroke-width="1.2"/>
<circle cx="636.40" cy="122.10" r="4.8" fill="#fff" stroke="#111" stroke-width="1.2"/>
<circle cx="646.54" cy="115.40" r="4.8" fill="#fff" stroke="#111" stroke-width="1.2"/>
<polyline points="443.74,118.00 453.88,116.00 464.02,114.00 474.16,114.00 484.30,103.80 494.44,93.40 504.58,99.60 514.72,104.60 524.86,91.50 535.00,107.80 545.14,103.30 555.28,107.50 565.42,95.80 575.56,98.50 585.70,118.60 595.84,110.30 605.98,99.60 616.12,102.60 626.26,98.00 636.40,94.50 646.54,93.60" fill="none" stroke="#111" stroke-width="2" stroke-dasharray="23.15 7.90 28.82 9.97 27.05 6.93 25.15 9.99 26.80 9.56 27.61 13.05 23.12 8.99 24.50 8.50" stroke-linejoin="round"/>
<circle cx="443.90" cy="141.70" r="1.9" fill="#111"/>
<circle cx="450.10" cy="133.90" r="1.9" fill="#111"/>
<circle cx="456.70" cy="127.30" r="1.9" fill="#111"/>
<circle cx="464.60" cy="122.80" r="1.9" fill="#111"/>
<circle cx="472.80" cy="130.70" r="1.9" fill="#111"/>
<circle cx="480.60" cy="132.00" r="1.9" fill="#111"/>
<circle cx="485.60" cy="136.00" r="1.9" fill="#111"/>
<circle cx="487.80" cy="144.10" r="1.9" fill="#111"/>
<circle cx="490.20" cy="152.00" r="1.9" fill="#111"/>
<circle cx="492.40" cy="160.10" r="1.9" fill="#111"/>
<circle cx="494.50" cy="168.00" r="1.9" fill="#111"/>
<circle cx="498.70" cy="161.20" r="1.9" fill="#111"/>
<circle cx="503.00" cy="153.30" r="1.9" fill="#111"/>
<circle cx="509.60" cy="145.70" r="1.9" fill="#111"/>
<circle cx="517.50" cy="143.30" r="1.9" fill="#111"/>
<circle cx="525.40" cy="149.40" r="1.9" fill="#111"/>
<circle cx="533.60" cy="149.40" r="1.9" fill="#111"/>
<circle cx="537.40" cy="143.00" r="1.9" fill="#111"/>
<circle cx="540.40" cy="134.90" r="1.9" fill="#111"/>
<circle cx="548.50" cy="128.50" r="1.9" fill="#111"/>
<circle cx="557.10" cy="127.70" r="1.9" fill="#111"/>
<circle cx="564.90" cy="127.10" r="1.9" fill="#111"/>
<circle cx="573.00" cy="131.90" r="1.9" fill="#111"/>
<circle cx="580.50" cy="132.50" r="1.9" fill="#111"/>
<circle cx="588.50" cy="132.50" r="1.9" fill="#111"/>
<circle cx="596.50" cy="131.00" r="1.9" fill="#111"/>
<circle cx="612.10" cy="132.10" r="1.9" fill="#111"/>
<circle cx="619.40" cy="137.60" r="1.9" fill="#111"/>
<circle cx="627.50" cy="139.80" r="1.9" fill="#111"/>
<circle cx="635.50" cy="141.60" r="1.9" fill="#111"/>
<circle cx="643.60" cy="140.30" r="1.9" fill="#111"/>
<circle cx="443.74" cy="331.30" r="5.5" fill="#111"/>
<circle cx="453.88" cy="327.10" r="5.5" fill="#111"/>
<circle cx="464.02" cy="326.50" r="5.5" fill="#111"/>
<circle cx="474.16" cy="329.50" r="5.5" fill="#111"/>
<circle cx="484.30" cy="330.80" r="5.5" fill="#111"/>
<circle cx="494.44" cy="338.60" r="5.5" fill="#111"/>
<circle cx="504.58" cy="346.40" r="5.5" fill="#111"/>
<circle cx="514.72" cy="334.40" r="5.5" fill="#111"/>
<circle cx="524.86" cy="326.00" r="5.5" fill="#111"/>
<circle cx="535.00" cy="331.20" r="5.5" fill="#111"/>
<circle cx="545.14" cy="328.00" r="5.5" fill="#111"/>
<circle cx="555.28" cy="338.80" r="5.5" fill="#111"/>
<circle cx="565.42" cy="328.30" r="5.5" fill="#111"/>
<circle cx="575.56" cy="336.00" r="5.5" fill="#111"/>
<circle cx="585.70" cy="328.90" r="5.5" fill="#111"/>
<circle cx="595.84" cy="323.50" r="5.5" fill="#111"/>
<circle cx="605.98" cy="344.70" r="5.5" fill="#111"/>
<circle cx="616.12" cy="343.70" r="5.5" fill="#111"/>
<circle cx="626.26" cy="334.60" r="5.5" fill="#111"/>
<circle cx="636.40" cy="337.90" r="5.5" fill="#111"/>
<circle cx="646.54" cy="337.90" r="5.5" fill="#111"/>
<circle cx="443.74" cy="324.90" r="4.8" fill="#fff" stroke="#111" stroke-width="1.2"/>
<circle cx="453.88" cy="332.10" r="4.8" fill="#fff" stroke="#111" stroke-width="1.2"/>
<circle cx="464.02" cy="331.30" r="4.8" fill="#fff" stroke="#111" stroke-width="1.2"/>
<circle cx="474.16" cy="329.50" r="4.8" fill="#fff" stroke="#111" stroke-width="1.2"/>
<circle cx="484.30" cy="323.80" r="4.8" fill="#fff" stroke="#111" stroke-width="1.2"/>
<circle cx="494.44" cy="329.40" r="4.8" fill="#fff" stroke="#111" stroke-width="1.2"/>
<circle cx="504.58" cy="324.90" r="4.8" fill="#fff" stroke="#111" stroke-width="1.2"/>
<circle cx="514.72" cy="326.20" r="4.8" fill="#fff" stroke="#111" stroke-width="1.2"/>
<circle cx="524.86" cy="299.40" r="4.8" fill="#fff" stroke="#111" stroke-width="1.2"/>
<circle cx="535.00" cy="331.20" r="4.8" fill="#fff" stroke="#111" stroke-width="1.2"/>
<circle cx="545.14" cy="318.40" r="4.8" fill="#fff" stroke="#111" stroke-width="1.2"/>
<circle cx="555.28" cy="319.30" r="4.8" fill="#fff" stroke="#111" stroke-width="1.2"/>
<circle cx="565.42" cy="307.60" r="4.8" fill="#fff" stroke="#111" stroke-width="1.2"/>
<circle cx="575.56" cy="306.80" r="4.8" fill="#fff" stroke="#111" stroke-width="1.2"/>
<circle cx="585.70" cy="317.00" r="4.8" fill="#fff" stroke="#111" stroke-width="1.2"/>
<circle cx="595.84" cy="310.10" r="4.8" fill="#fff" stroke="#111" stroke-width="1.2"/>
<circle cx="605.98" cy="300.30" r="4.8" fill="#fff" stroke="#111" stroke-width="1.2"/>
<circle cx="616.12" cy="306.30" r="4.8" fill="#fff" stroke="#111" stroke-width="1.2"/>
<circle cx="626.26" cy="307.00" r="4.8" fill="#fff" stroke="#111" stroke-width="1.2"/>
<circle cx="636.40" cy="305.20" r="4.8" fill="#fff" stroke="#111" stroke-width="1.2"/>
<circle cx="646.54" cy="288.80" r="4.8" fill="#fff" stroke="#111" stroke-width="1.2"/>
<polyline points="443.74,318.70 453.88,315.40 464.02,319.50 474.16,318.70 484.30,314.50 494.44,312.60 504.58,309.50 514.72,316.80 524.86,304.50 535.00,308.00 545.14,299.70 555.28,304.00 565.42,305.60 575.56,308.30 585.70,303.70 595.84,292.00 605.98,326.00 616.12,318.00 626.26,310.00 636.40,317.50 646.54,316.30" fill="none" stroke="#111" stroke-width="2" stroke-dasharray="23.66 8.43 23.76 8.59 28.91 10.00 25.84 8.68 23.40 12.48 22.43 12.66 23.02 10.75 24.50 8.50" stroke-linejoin="round"/>
<circle cx="444.00" cy="342.00" r="1.9" fill="#111"/>
<circle cx="452.30" cy="339.00" r="1.9" fill="#111"/>
<circle cx="460.10" cy="340.00" r="1.9" fill="#111"/>
<circle cx="468.20" cy="339.60" r="1.9" fill="#111"/>
<circle cx="476.30" cy="338.80" r="1.9" fill="#111"/>
<circle cx="484.30" cy="345.60" r="1.9" fill="#111"/>
<circle cx="492.10" cy="344.00" r="1.9" fill="#111"/>
<circle cx="500.00" cy="347.00" r="1.9" fill="#111"/>
<circle cx="508.00" cy="350.00" r="1.9" fill="#111"/>
<circle cx="515.90" cy="352.70" r="1.9" fill="#111"/>
<circle cx="523.30" cy="344.40" r="1.9" fill="#111"/>
<circle cx="528.90" cy="348.80" r="1.9" fill="#111"/>
<circle cx="534.30" cy="356.80" r="1.9" fill="#111"/>
<circle cx="538.90" cy="351.60" r="1.9" fill="#111"/>
<circle cx="544.00" cy="343.70" r="1.9" fill="#111"/>
<circle cx="550.70" cy="341.90" r="1.9" fill="#111"/>
<circle cx="558.00" cy="338.00" r="1.9" fill="#111"/>
<circle cx="567.30" cy="333.80" r="1.9" fill="#111"/>
<circle cx="575.50" cy="336.00" r="1.9" fill="#111"/>
<circle cx="583.50" cy="335.30" r="1.9" fill="#111"/>
<circle cx="591.50" cy="331.10" r="1.9" fill="#111"/>
<circle cx="599.50" cy="331.60" r="1.9" fill="#111"/>
<circle cx="607.50" cy="336.50" r="1.9" fill="#111"/>
<circle cx="615.50" cy="334.70" r="1.9" fill="#111"/>
<circle cx="623.50" cy="334.00" r="1.9" fill="#111"/>
<circle cx="631.50" cy="333.00" r="1.9" fill="#111"/>
<circle cx="639.60" cy="332.10" r="1.9" fill="#111"/>
<circle cx="646.00" cy="336.00" r="1.9" fill="#111"/>
<circle cx="484.50" cy="548.00" r="5.5" fill="#111"/>
<circle cx="525.00" cy="527.10" r="5.5" fill="#111"/>
<circle cx="565.30" cy="518.50" r="5.5" fill="#111"/>
<circle cx="605.60" cy="514.40" r="5.5" fill="#111"/>
<circle cx="646.30" cy="514.40" r="5.5" fill="#111"/>
<circle cx="484.50" cy="548.00" r="4.8" fill="#fff" stroke="#111" stroke-width="1.2"/>
<circle cx="525.00" cy="548.00" r="4.8" fill="#fff" stroke="#111" stroke-width="1.2"/>
<circle cx="565.30" cy="548.10" r="4.8" fill="#fff" stroke="#111" stroke-width="1.2"/>
<circle cx="605.60" cy="541.00" r="4.8" fill="#fff" stroke="#111" stroke-width="1.2"/>
<circle cx="646.30" cy="548.10" r="4.8" fill="#fff" stroke="#111" stroke-width="1.2"/>
<polyline points="484.50,548.00 525.00,505.00 565.30,498.30 605.60,488.30 646.30,481.30" fill="none" stroke="#111" stroke-width="2" stroke-dasharray="30.42 11.68 27.54 7.81 22.74 9.12 23.14 8.63 22.39 9.26 24.50 8.50" stroke-linejoin="round"/>
<circle cx="484.50" cy="548.40" r="1.9" fill="#111"/>
<circle cx="492.30" cy="548.40" r="1.9" fill="#111"/>
<circle cx="500.40" cy="548.40" r="1.9" fill="#111"/>
<circle cx="508.50" cy="548.40" r="1.9" fill="#111"/>
<circle cx="516.60" cy="548.40" r="1.9" fill="#111"/>
<circle cx="525.00" cy="548.40" r="1.9" fill="#111"/>
<circle cx="532.80" cy="552.70" r="1.9" fill="#111"/>
<circle cx="540.60" cy="558.00" r="1.9" fill="#111"/>
<circle cx="548.80" cy="563.70" r="1.9" fill="#111"/>
<circle cx="556.70" cy="568.90" r="1.9" fill="#111"/>
<circle cx="564.50" cy="574.10" r="1.9" fill="#111"/>
<circle cx="572.80" cy="571.90" r="1.9" fill="#111"/>
<circle cx="580.50" cy="568.30" r="1.9" fill="#111"/>
<circle cx="588.70" cy="565.00" r="1.9" fill="#111"/>
<circle cx="596.90" cy="561.70" r="1.9" fill="#111"/>
<circle cx="604.30" cy="558.80" r="1.9" fill="#111"/>
<circle cx="612.50" cy="556.30" r="1.9" fill="#111"/>
<circle cx="620.80" cy="554.20" r="1.9" fill="#111"/>
<circle cx="628.70" cy="551.90" r="1.9" fill="#111"/>
<circle cx="636.90" cy="550.20" r="1.9" fill="#111"/>
<circle cx="644.60" cy="548.60" r="1.9" fill="#111"/>
<text x="2.50" y="13.00" font-size="16.5" text-anchor="start" font-weight="bold" fill="#1a1a1a" >(A)</text>
<text x="356.50" y="13.50" font-size="16.5" text-anchor="start" font-weight="bold" fill="#1a1a1a" >(B)</text>
<text x="355.80" y="454.20" font-size="16.5" text-anchor="start" font-weight="bold" fill="#1a1a1a" >(C)</text>
<text x="146.00" y="44.00" font-size="19.6" text-anchor="start" font-weight="bold" fill="#1a1a1a" >P1</text>
<text x="145.80" y="251.00" font-size="19.6" text-anchor="start" font-weight="bold" fill="#1a1a1a" >N1</text>
<text x="146.00" y="462.30" font-size="19.6" text-anchor="start" font-weight="bold" fill="#1a1a1a" >P2</text>
<text x="497.30" y="62.00" font-size="19.4" text-anchor="start" font-weight="bold" fill="#1a1a1a" >P1-N1</text>
<text x="497.30" y="250.00" font-size="19.4" text-anchor="start" font-weight="bold" fill="#1a1a1a" >P2-N1</text>
<text x="496.80" y="462.50" font-size="20.2" text-anchor="start" font-weight="bold" fill="#1a1a1a" >Threshold</text>
<g transform="translate(592.4,449.2) scale(0.94)" fill="#f24e2e"><path d="M0,0 C-1.0,-1.3 -1.45,-3.1 -1.35,-4.4 A1.35,1.35 0 1 1 1.35,-4.4 C1.45,-3.1 1.0,-1.3 0,0 Z" transform="rotate(0)"/><path d="M0,0 C-1.0,-1.3 -1.45,-3.1 -1.35,-4.4 A1.35,1.35 0 1 1 1.35,-4.4 C1.45,-3.1 1.0,-1.3 0,0 Z" transform="rotate(72)"/><path d="M0,0 C-1.0,-1.3 -1.45,-3.1 -1.35,-4.4 A1.35,1.35 0 1 1 1.35,-4.4 C1.45,-3.1 1.0,-1.3 0,0 Z" transform="rotate(144)"/><path d="M0,0 C-1.0,-1.3 -1.45,-3.1 -1.35,-4.4 A1.35,1.35 0 1 1 1.35,-4.4 C1.45,-3.1 1.0,-1.3 0,0 Z" transform="rotate(216)"/><path d="M0,0 C-1.0,-1.3 -1.45,-3.1 -1.35,-4.4 A1.35,1.35 0 1 1 1.35,-4.4 C1.45,-3.1 1.0,-1.3 0,0 Z" transform="rotate(288)"/></g>
<text x="198.40" y="676.30" font-size="20.2" text-anchor="middle" font-weight="normal" fill="#1a1a1a" >Time (minutes)</text>
<text x="543.20" y="674.80" font-size="20.2" text-anchor="middle" font-weight="normal" fill="#1a1a1a" >Time (minutes)</text>
<text x="0.00" y="0.00" font-size="20" text-anchor="middle" font-weight="normal" fill="#1a1a1a" transform="translate(16.6,322.5) rotate(-90)">Latency Change (µs)</text>
<text x="0.00" y="0.00" font-size="20.1" text-anchor="middle" font-weight="normal" fill="#1a1a1a" transform="translate(368.6,227.2) rotate(-90)">Amplitude Change (µV)</text>
<text x="0.00" y="0.00" font-size="20.2" text-anchor="middle" font-weight="normal" fill="#1a1a1a" transform="translate(359.8,545.3) rotate(-90)">Threshold Change</text>
<text x="0.00" y="0.00" font-size="20.1" text-anchor="middle" font-weight="normal" fill="#1a1a1a" transform="translate(382.4,546) rotate(-90)">(dB re: 1 g/ms)</text>
<circle cx="207.6" cy="14.5" r="5.5" fill="#111"/>
<circle cx="207.9" cy="36.6" r="4.8" fill="#fff" stroke="#111" stroke-width="1.2"/>
<text x="230.80" y="20.00" font-size="13.6" text-anchor="start" font-weight="normal" fill="#1a1a1a" >Meclizine</text>
<text x="231.60" y="42.30" font-size="13.6" text-anchor="start" font-weight="normal" fill="#1a1a1a" >Vehicle</text>
</svg></body></html>
